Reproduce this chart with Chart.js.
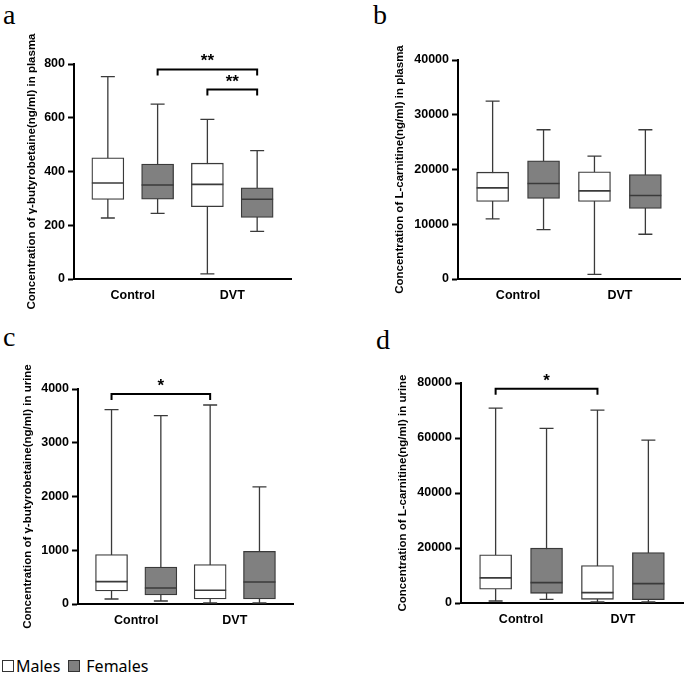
<!DOCTYPE html>
<html>
<head>
<meta charset="utf-8">
<script src="https://cdn.jsdelivr.net/npm/chart.js@4.4.0/dist/chart.umd.min.js"></script>
<style>
  body { margin: 0; background: #fff; width: 685px; height: 674px; position: relative; overflow: hidden; }
  .panel { position: absolute; }
  .letter { position: absolute; font-family: "Liberation Serif", serif; font-size: 28px; line-height: 1; color: #000; }
  .legend { position: absolute; left: 2px; top: 655px; font-family: "Noto Sans", sans-serif; font-size: 16px; color: #000; display: flex; align-items: center; }
  .swatch { display: inline-block; width: 12px; height: 12px; border: 1px solid #333; box-sizing: border-box; margin-right: 2px; }
</style>
</head>
<body>
<div class="letter" style="left:3px;top:1px">a</div>
<div class="letter" style="left:373px;top:1px">b</div>
<div class="letter" style="left:3px;top:323px">c</div>
<div class="letter" style="left:376px;top:326px">d</div>

<div class="panel" style="left:0;top:0"><canvas id="chartA" width="342" height="315"></canvas></div>
<div class="panel" style="left:342px;top:0"><canvas id="chartB" width="343" height="315"></canvas></div>
<div class="panel" style="left:0;top:315px"><canvas id="chartC" width="342" height="330"></canvas></div>
<div class="panel" style="left:342px;top:315px"><canvas id="chartD" width="343" height="330"></canvas></div>

<div class="legend">
  <span class="swatch" style="background:#fff"></span><span>Males</span>
  <span class="swatch" style="background:#808080;margin-left:8px"></span><span style="margin-left:4px">Females</span>
</div>

<script>
const groups = ['Control', 'DVT'];
const groupPos = [0.5, 2.5];
const malePos = [0, 2];
const femalePos = [1, 3];

// box order: Control-M, Control-F, DVT-M, DVT-F
const plasmaGbbMin = [227, 244, 19, 177];
const plasmaGbbQ1 = [296, 297, 269, 229];
const plasmaGbbMed = [357, 350, 352, 297];
const plasmaGbbQ3 = [451, 428, 431, 339];
const plasmaGbbMax = [753, 651, 594, 478];

const plasmaCarMin = [10980, 9025, 850, 8170];
const plasmaCarQ1 = [14150, 14700, 14150, 12870];
const plasmaCarMed = [16650, 17440, 16100, 15245];
const plasmaCarQ3 = [19510, 21590, 19580, 19090];
const plasmaCarMax = [32500, 27260, 22440, 27260];

const urineGbbMin = [93, 56, 19, 19];
const urineGbbQ1 = [242, 168, 93, 93];
const urineGbbMed = [416, 298, 255, 410];
const urineGbbQ3 = [919, 689, 733, 981];
const urineGbbMax = [3615, 3503, 3702, 2180];

const urineCarMin = [730, 1340, 365, 365];
const urineCarQ1 = [4985, 3525, 1340, 1215];
const urineCarMed = [9120, 7420, 3770, 7050];
const urineCarQ3 = [17510, 19940, 13620, 18360];
const urineCarMax = [70880, 63470, 70150, 59210];

// significance brackets: from box, to box, level, label
const sigA = [
  { from: 1, to: 3, level: 780, label: '**' },
  { from: 2, to: 3, level: 705, label: '**' }
];
const sigB = [];
const sigC = [{ from: 0, to: 2, level: 3907, label: '*' }];
const sigD = [{ from: 0, to: 2, level: 77930, label: '*' }];

const lineColor = '#3a3a3a';

const boxPlugin = {
  id: 'boxWhiskers',
  beforeDatasetsDraw(chart, args, opts) {
    const { ctx, scales: { x, y } } = chart;
    ctx.save();
    ctx.strokeStyle = lineColor;
    ctx.lineWidth = 1.3;
    for (let i = 0; i < opts.min.length; i++) {
      const px = x.getPixelForValue(i);
      const yMin = y.getPixelForValue(opts.min[i]);
      const yMax = y.getPixelForValue(opts.max[i]);
      ctx.beginPath();
      ctx.moveTo(px, yMin); ctx.lineTo(px, yMax);
      ctx.moveTo(px - 7, yMin); ctx.lineTo(px + 7, yMin);
      ctx.moveTo(px - 7, yMax); ctx.lineTo(px + 7, yMax);
      ctx.stroke();
    }
    ctx.restore();
  },
  afterDatasetsDraw(chart, args, opts) {
    const { ctx, scales: { x, y } } = chart;
    ctx.save();
    ctx.strokeStyle = lineColor;
    ctx.lineWidth = 1.6;
    for (let i = 0; i < opts.med.length; i++) {
      const px = x.getPixelForValue(i);
      const py = y.getPixelForValue(opts.med[i]);
      ctx.beginPath();
      ctx.moveTo(px - 16, py); ctx.lineTo(px + 16, py);
      ctx.stroke();
    }
    ctx.strokeStyle = '#000';
    ctx.lineWidth = 2;
    ctx.fillStyle = '#000';
    ctx.font = 'bold 17px "Liberation Sans", Arial, sans-serif';
    ctx.textAlign = 'center';
    ctx.textBaseline = 'alphabetic';
    opts.brackets.forEach(b => {
      const x1 = x.getPixelForValue(b.from);
      const x2 = x.getPixelForValue(b.to);
      const py = y.getPixelForValue(b.level);
      ctx.beginPath();
      ctx.moveTo(x1, py + 6); ctx.lineTo(x1, py); ctx.lineTo(x2, py); ctx.lineTo(x2, py + 6);
      ctx.stroke();
      ctx.fillText(b.label, (x1 + x2) / 2, py - 3);
    });
    ctx.restore();
  }
};

function makeChart(id, cfg) {
  const boxes = (pos) => pos.map(i => ({ x: i, y: [cfg.q1[i], cfg.q3[i]] }));
  new Chart(document.getElementById(id), {
    type: 'bar',
    data: {
      datasets: [
        { label: 'Males', data: boxes(malePos), backgroundColor: '#ffffff', borderColor: lineColor,
          borderWidth: 1.3, borderSkipped: false, barThickness: 32, grouped: false },
        { label: 'Females', data: boxes(femalePos), backgroundColor: '#808080', borderColor: lineColor,
          borderWidth: 1.3, borderSkipped: false, barThickness: 32, grouped: false }
      ]
    },
    options: {
      responsive: false,
      animation: false,
      layout: { padding: cfg.padding },
      plugins: {
        legend: { display: false },
        tooltip: { enabled: false },
        boxWhiskers: { min: cfg.min, med: cfg.med, max: cfg.max, brackets: cfg.sig }
      },
      scales: {
        x: {
          type: 'linear',
          offset: false,
          min: -0.68,
          max: 3.68,
          grid: { display: false, drawTicks: false, offset: false },
          border: { display: true, color: '#000', width: 2 },
          afterBuildTicks: s => { s.ticks = groupPos.map(v => ({ value: v })); },
          afterFit: s => { s.height = cfg.xHeight; },
          ticks: {
            padding: 9,
            color: '#000',
            font: { family: '"Liberation Sans", Arial, sans-serif', size: 12.5, weight: 'bold' },
            callback: v => groups[groupPos.indexOf(v)]
          }
        },
        y: {
          min: 0,
          max: cfg.yMax,
          grid: { display: true, drawOnChartArea: false, drawTicks: true, tickLength: 6, tickWidth: 2, tickColor: '#000' },
          border: { display: true, color: '#000', width: 2 },
          afterFit: s => { s.width = cfg.yWidth; },
          ticks: {
            stepSize: cfg.yStep,
            padding: 3,
            color: '#000',
            font: { family: '"Liberation Sans", Arial, sans-serif', size: 12.5, weight: 'bold' },
            callback: v => String(v)
          },
          title: {
            display: true,
            text: cfg.title,
            color: '#000',
            padding: { top: 0, bottom: 0 },
            font: { family: '"Liberation Sans", Arial, sans-serif', size: 11.5, weight: 'bold' }
          }
        }
      }
    },
    plugins: [boxPlugin]
  });
}

makeChart('chartA', {
  q1: plasmaGbbQ1, q3: plasmaGbbQ3, min: plasmaGbbMin, med: plasmaGbbMed, max: plasmaGbbMax, sig: sigA,
  yMax: 800, yStep: 200, title: 'Concentration of γ-butyrobetaine(ng/ml) in plasma',
  padding: { left: 25, top: 64, right: 51, bottom: 0 }, yWidth: 49, xHeight: 36
});
makeChart('chartB', {
  q1: plasmaCarQ1, q3: plasmaCarQ3, min: plasmaCarMin, med: plasmaCarMed, max: plasmaCarMax, sig: sigB,
  yMax: 40000, yStep: 10000, title: 'Concentration of L-carnitine(ng/ml) in plasma',
  padding: { left: 51, top: 60, right: 5, bottom: 0 }, yWidth: 65, xHeight: 36
});
makeChart('chartC', {
  q1: urineGbbQ1, q3: urineGbbQ3, min: urineGbbMin, med: urineGbbMed, max: urineGbbMax, sig: sigC,
  yMax: 4000, yStep: 1000, title: 'Concentration of γ-butyrobetaine(ng/ml) in urine',
  padding: { left: 21, top: 74, right: 49, bottom: 0 }, yWidth: 57, xHeight: 41
});
makeChart('chartD', {
  q1: urineCarQ1, q3: urineCarQ3, min: urineCarMin, med: urineCarMed, max: urineCarMax, sig: sigD,
  yMax: 80000, yStep: 20000, title: 'Concentration of L-carnitine(ng/ml) in urine',
  padding: { left: 54, top: 68, right: 2, bottom: 0 }, yWidth: 65, xHeight: 42
});
</script>
</body>
</html>
